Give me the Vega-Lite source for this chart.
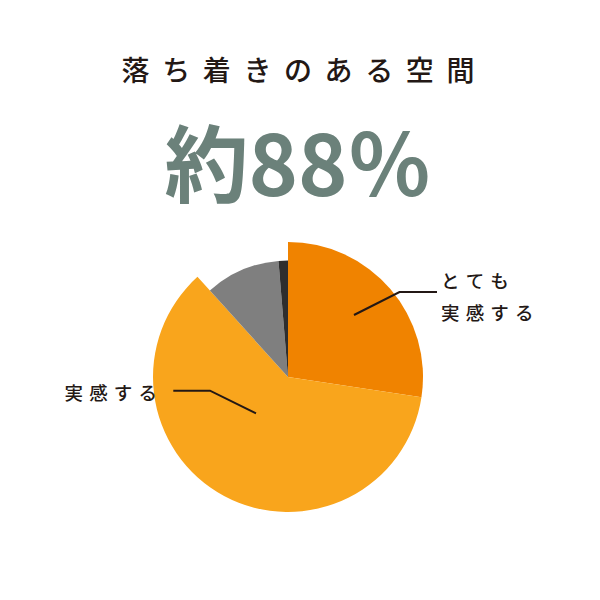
{
  "$schema": "https://vega.github.io/schema/vega-lite/v6.json",
  "width": 560,
  "height": 280,
  "autosize": {"type": "none"},
  "padding": {"left": 8, "top": 237, "right": 32, "bottom": 83},
  "background": "white",
  "config": {"view": {"stroke": null}, "font": "Noto Sans CJK JP"},
  "title": {
    "text": "落\u00a0\u00a0ち\u00a0\u00a0着\u00a0\u00a0き\u00a0\u00a0の\u00a0\u00a0あ\u00a0\u00a0る\u00a0\u00a0空\u00a0\u00a0間",
    "subtitle": "約88％",
    "anchor": "middle",
    "dx": 10,
    "offset": 24,
    "font": "Noto Sans CJK JP",
    "fontSize": 28,
    "fontWeight": 500,
    "color": "#231815",
    "subtitleFont": "Noto Sans CJK JP",
    "subtitleFontSize": 84,
    "subtitleFontWeight": "bold",
    "subtitleColor": "#6B817A",
    "subtitlePadding": 43
  },
  "datasets": {
    "answers": [
      {"answer": "とても実感する", "share": 27.4, "order": 1, "group": "実感"},
      {"answer": "実感する", "share": 60.9, "order": 2, "group": "実感"},
      {"answer": "あまり実感しない", "share": 10.4, "order": 3, "group": "その他"},
      {"answer": "実感しない", "share": 1.3, "order": 4, "group": "その他"}
    ],
    "leaders": [
      {"label": "とても実感する", "step": 1, "x": 66, "y": 62},
      {"label": "とても実感する", "step": 2, "x": 111.5, "y": 85},
      {"label": "とても実感する", "step": 3, "x": 149, "y": 85},
      {"label": "実感する", "step": 1, "x": -114.7, "y": -13.7},
      {"label": "実感する", "step": 2, "x": -78, "y": -13.7},
      {"label": "実感する", "step": 3, "x": -32, "y": -36.3}
    ],
    "labels": [
      {"text": "と\u2004て\u2004も", "side": "right", "x": 153, "y": 95},
      {"text": "実\u2004感\u2004す\u2004る", "side": "right", "x": 153, "y": 63},
      {"text": "実\u2004感\u2004す\u2004る", "side": "left", "x": -131, "y": -17}
    ]
  },
  "layer": [
    {
      "data": {"name": "answers"},
      "mark": {"type": "arc", "stroke": null, "outerRadius": 135},
      "encoding": {
        "theta": {"field": "share", "type": "quantitative", "stack": true},
        "color": {"field": "answer", "type": "nominal", "scale": {"domain": ["とても実感する", "実感する", "あまり実感しない", "実感しない"], "range": ["#F08300", "#F9A51C", "#7F7F7F", "#2E2E2E"]}, "legend": null},
        "fillOpacity": {"condition": {"test": "datum.group == '実感'", "value": 1}, "value": 0},
        "order": {"field": "order", "type": "quantitative"}
      }
    },
    {
      "data": {"name": "answers"},
      "mark": {"type": "arc", "stroke": null, "outerRadius": 116.5},
      "encoding": {
        "theta": {"field": "share", "type": "quantitative", "stack": true},
        "color": {"field": "answer", "type": "nominal", "legend": null},
        "fillOpacity": {"condition": {"test": "datum.group == 'その他'", "value": 1}, "value": 0},
        "order": {"field": "order", "type": "quantitative"}
      }
    },
    {
      "data": {"name": "leaders"},
      "mark": {"type": "line", "color": "#231815", "strokeWidth": 2},
      "encoding": {
        "x": {"field": "x", "type": "quantitative", "scale": {"domain": [-280, 280], "nice": false, "zero": false}, "axis": null},
        "y": {"field": "y", "type": "quantitative", "scale": {"domain": [-140, 140], "nice": false, "zero": false}, "axis": null},
        "detail": {"field": "label", "type": "nominal"},
        "order": {"field": "step", "type": "quantitative"}
      }
    },
    {
      "data": {"name": "labels"},
      "transform": [{"filter": "datum.side == 'right'"}],
      "mark": {"type": "text", "align": "left", "baseline": "middle", "fontSize": 18.5, "fontWeight": 500, "color": "#231815", "font": "Noto Sans CJK JP"},
      "encoding": {
        "x": {"field": "x", "type": "quantitative", "scale": {"domain": [-280, 280], "nice": false, "zero": false}, "axis": null},
        "y": {"field": "y", "type": "quantitative", "scale": {"domain": [-140, 140], "nice": false, "zero": false}, "axis": null},
        "text": {"field": "text", "type": "nominal"}
      }
    },
    {
      "data": {"name": "labels"},
      "transform": [{"filter": "datum.side == 'left'"}],
      "mark": {"type": "text", "align": "right", "baseline": "middle", "fontSize": 18.5, "fontWeight": 500, "color": "#231815", "font": "Noto Sans CJK JP"},
      "encoding": {
        "x": {"field": "x", "type": "quantitative", "scale": {"domain": [-280, 280], "nice": false, "zero": false}, "axis": null},
        "y": {"field": "y", "type": "quantitative", "scale": {"domain": [-140, 140], "nice": false, "zero": false}, "axis": null},
        "text": {"field": "text", "type": "nominal"}
      }
    }
  ]
}
